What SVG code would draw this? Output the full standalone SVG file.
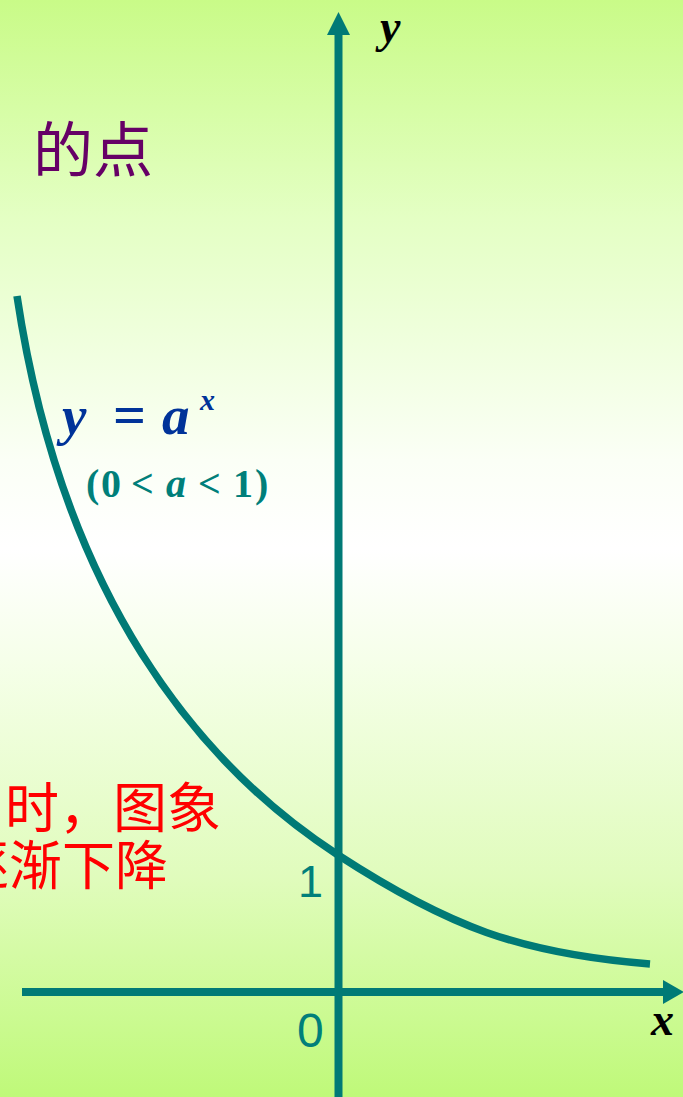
<svg xmlns="http://www.w3.org/2000/svg" width="683" height="1097" viewBox="0 0 683 1097">
  <defs>
    <linearGradient id="bg" x1="0" y1="0" x2="0" y2="1">
      <stop offset="0" stop-color="#c9fb88"/>
      <stop offset="0.2" stop-color="#e4ffc4"/>
      <stop offset="0.42" stop-color="#fbfff6"/>
      <stop offset="0.5" stop-color="#ffffff"/>
      <stop offset="0.6" stop-color="#f6ffea"/>
      <stop offset="0.8" stop-color="#e0fcbc"/>
      <stop offset="1" stop-color="#bff979"/>
    </linearGradient>
  </defs>
  <style>
    .axis { stroke: #007a76; stroke-width: 8; fill: none; }
    .head { fill: #007a76; }
    .curve { stroke: #007a76; stroke-width: 7.5; fill: none; stroke-linecap: butt; }
    .math { font-family: "Liberation Serif", "Times New Roman", serif; font-weight: bold; font-style: italic; }
    .num { font-family: "Liberation Sans", Arial, sans-serif; fill: #007f7a; }
    .cjk { font-family: "Noto Sans CJK SC", "Noto Sans CJK JP", sans-serif; }
  </style>
  <rect x="0" y="0" width="683" height="1097" fill="url(#bg)"/>

  <g id="connectors">
    <g id="y-axis">
      <line class="axis" x1="338.5" y1="1097" x2="338.5" y2="32"/>
      <polygon class="head" points="338.5,12 327,35 350,35"/>
    </g>
    <g id="x-axis">
      <line class="axis" x1="22" y1="992" x2="665" y2="992"/>
      <polygon class="head" points="684,992 663,980 663,1004"/>
    </g>
    <path id="curve" class="curve" d="M17,296 C62,596 198,764 338,855 C448,926.5 520,953.6 650,964"/>
  </g>

  <g id="label-y"><text class="math" x="380" y="42" font-size="46" fill="#000">y</text></g>
  <g id="label-x"><text class="math" x="651" y="1035" font-size="46" fill="#000">x</text></g>
  <g id="label-1"><text class="num" x="298" y="897" font-size="45">1</text></g>
  <g id="label-0"><text class="num" x="297" y="1047" font-size="48">0</text></g>

  <g id="formula">
    <text class="math" y="434" font-size="55" fill="#003399"><tspan x="62">y</tspan><tspan x="113" font-style="normal" font-size="58">=</tspan><tspan x="162">a</tspan></text>
    <text class="math" x="200" y="410" font-size="30" fill="#003399">x</text>
  </g>
  <g id="condition">
    <text y="497" font-size="40" fill="#007f7a" font-family="Liberation Serif, Times New Roman, serif" font-weight="bold"><tspan x="86">(</tspan><tspan x="101">0</tspan><tspan x="131">&lt;</tspan><tspan x="166" font-style="italic">a</tspan><tspan x="198">&lt;</tspan><tspan x="233">1</tspan><tspan x="255">)</tspan></text>
  </g>

  <g id="text-top"><text class="cjk" x="33" y="172" font-size="60" fill="#660066">的点</text></g>
  <g id="text-red">
    <text class="cjk" x="5" y="828" font-size="54" fill="#ff0000">时，图象</text>
    <text class="cjk" x="-44" y="885" font-size="53" fill="#ff0000">逐渐下降</text>
  </g>
</svg>
